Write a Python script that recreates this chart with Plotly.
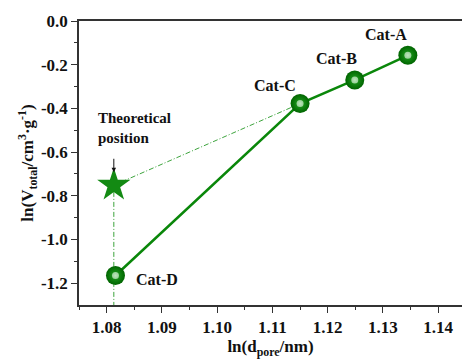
import plotly.graph_objects as go

# Catalyst data: ln(pore diameter / nm) vs ln(total pore volume / cm3 g-1)
cat_names = ["Cat-D", "Cat-C", "Cat-B", "Cat-A"]
ln_d_pore = [1.0816, 1.1150, 1.1249, 1.1345]
ln_v_total = [-1.165, -0.378, -0.270, -0.157]

# Theoretical position of Cat-D
theo_x = [1.0813]
theo_y = [-0.752]

# Guide lines (dash-dot): star -> Cat-C, star -> bottom axis
guide_x = [1.1150, 1.0813, 1.0813]
guide_y = [-0.378, -0.752, -1.30]

x_ticks = [1.08, 1.09, 1.10, 1.11, 1.12, 1.13, 1.14]
x_ticktext = ["1.08", "1.09", "1.10", "1.11", "1.12", "1.13", "1.14"]
y_ticks = [0.0, -0.2, -0.4, -0.6, -0.8, -1.0, -1.2]
y_ticktext = ["0.0", "-0.2", "-0.4", "-0.6", "-0.8", "-1.0", "-1.2"]

GREEN = "#0a870a"
FONT = "Liberation Serif, Times New Roman, serif"

fig = go.Figure()

fig.add_trace(go.Scatter(
    x=guide_x, y=guide_y, mode="lines",
    line=dict(color="#3da43d", width=1, dash="5px,2px,1px,2px"),
    hoverinfo="skip", showlegend=False,
))

fig.add_trace(go.Scatter(
    x=ln_d_pore, y=ln_v_total, mode="lines",
    line=dict(color=GREEN, width=2.5),
    showlegend=False,
))

# Shaded spheres: green core fading to a darker rim, plus a small highlight
fig.add_trace(go.Scatter(
    x=ln_d_pore, y=ln_v_total, mode="markers",
    marker=dict(size=19, color="#006400",
                gradient=dict(type="radial", color="#22a522"),
                line=dict(width=0)),
    showlegend=False,
))
fig.add_trace(go.Scatter(
    x=ln_d_pore, y=ln_v_total, mode="markers",
    marker=dict(size=7, color="#cfeecf",
                gradient=dict(type="radial", color="#ffffff"),
                opacity=0.7, line=dict(width=0)),
    showlegend=False, hoverinfo="skip",
))

fig.add_trace(go.Scatter(
    x=theo_x, y=theo_y, mode="markers",
    marker=dict(symbol="star", size=25, color="#138a13", line=dict(width=0)),
    showlegend=False,
))

label_font = dict(family=FONT, size=16, color="#111111", weight="bold")
offsets = {
    "Cat-A": (-22, 21, "center"),
    "Cat-B": (-18, 21, "center"),
    "Cat-C": (-25, 18, "center"),
    "Cat-D": (19, -4, "left"),
}
for name, xv, yv in zip(cat_names, ln_d_pore, ln_v_total):
    dx, dy, align = offsets[name]
    fig.add_annotation(
        x=xv, y=yv, text=name, showarrow=False,
        xshift=dx, yshift=dy, xanchor=align, font=label_font,
    )

fig.add_annotation(
    x=theo_x[0], y=theo_y[0], text="Theoretical<br>position",
    showarrow=False, xanchor="left", yanchor="bottom", align="left",
    xshift=-18, yshift=37,
    font=dict(family=FONT, size=15, color="#111111", weight="bold"),
)
fig.add_annotation(
    x=theo_x[0], y=theo_y[0], ax=0, ay=-28, text="",
    showarrow=True, arrowhead=2, arrowsize=0.9, arrowwidth=1,
    arrowcolor="#111111", standoff=13,
)

axis_common = dict(
    showline=True, linecolor="#333333", linewidth=1.5,
    ticks="outside", ticklen=6, tickwidth=1.2, tickcolor="#333333",
    showgrid=False, zeroline=False,
    tickfont=dict(family=FONT, size=17, color="#111111", weight="bold"),
)

fig.update_xaxes(
    **axis_common, range=[1.075, 1.1443], mirror=True,
    tickvals=x_ticks, ticktext=x_ticktext,
    minor=dict(ticks="outside", ticklen=3, tickwidth=1.2, tickcolor="#333333",
               tickvals=[1.075, 1.085, 1.095, 1.105, 1.115, 1.125, 1.135]),
    title=dict(text="ln(d<sub>pore</sub>/nm)", standoff=4,
               font=dict(family=FONT, size=17, color="#111111", weight="bold")),
)
fig.update_yaxes(
    **axis_common, range=[-1.3, 0.0],
    tickvals=y_ticks, ticktext=y_ticktext,
    minor=dict(ticks="outside", ticklen=3, tickwidth=1.2, tickcolor="#333333",
               tickvals=[-0.1, -0.3, -0.5, -0.7, -0.9, -1.1]),
    title=dict(text="ln(V<sub>total</sub>/cm<sup>3</sup>·g<sup>-1</sup>)",
               standoff=3,
               font=dict(family=FONT, size=17, color="#111111", weight="bold")),
)

fig.update_layout(
    width=462, height=361,
    margin=dict(l=79, r=0, t=21, b=56),
    paper_bgcolor="white", plot_bgcolor="white",
    showlegend=False,
)

fig.write_html("out.html")
